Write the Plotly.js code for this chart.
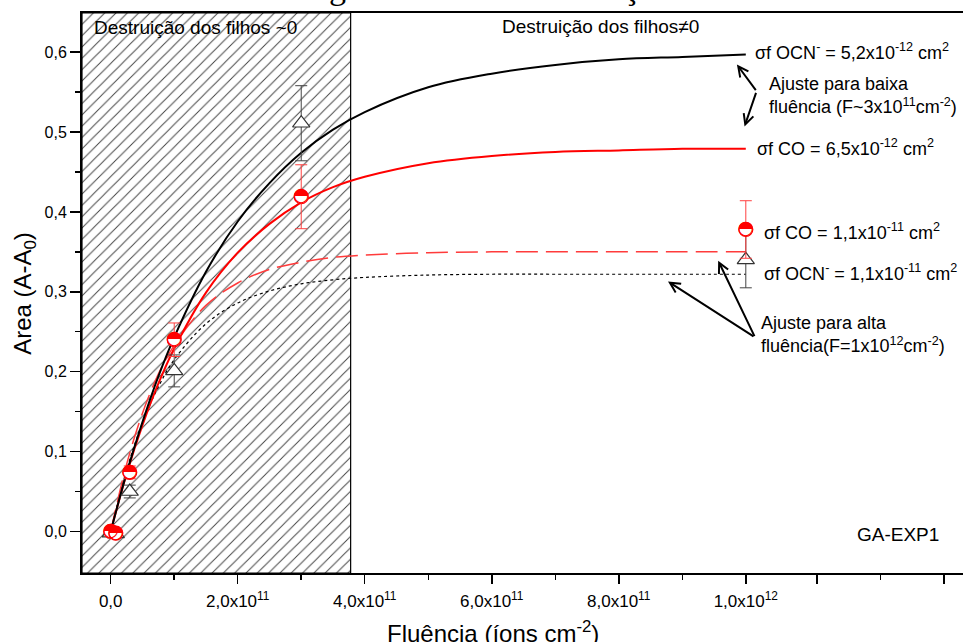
<!DOCTYPE html>
<html><head><meta charset="utf-8">
<script src="https://cdn.plot.ly/plotly-3.0.1.min.js"></script>
<style>html,body{margin:0;padding:0;background:#fff}#chart{width:963px;height:642px}</style>
</head><body><div id="chart"></div>
<script>
// ---- data ----
const coX   = [0, 0.08e11, 0.3e11, 1e11, 3e11, 1e12];
const coY   = [0.0, -0.002, 0.074, 0.24, 0.419, 0.378];
const coErr = [0.004, 0.004, 0.008, 0.021, 0.04, 0.036];

const ocnX   = [0, 0.08e11, 0.3e11, 1e11, 3e11, 1e12];
const ocnY   = [-0.002, -0.003, 0.05, 0.201, 0.511, 0.34];
const ocnErr = [0.004, 0.004, 0.008, 0.02, 0.047, 0.035];

const fitX       = [0, 0.25e11, 0.5e11, 0.75e11, 1e11, 1.5e11, 2e11, 2.5e11, 3e11, 3.5e11, 4e11, 5e11, 6e11, 7e11, 8e11, 9e11, 1e12];
const fitOcnLow  = [0, 0.073, 0.137, 0.194, 0.243, 0.325, 0.388, 0.436, 0.474, 0.503, 0.525, 0.556, 0.573, 0.584, 0.591, 0.594, 0.597];
const fitCoLow   = [0, 0.072, 0.133, 0.185, 0.229, 0.299, 0.349, 0.385, 0.412, 0.431, 0.444, 0.461, 0.470, 0.475, 0.477, 0.479, 0.479];
const fitCoHigh  = [0, 0.084, 0.148, 0.197, 0.233, 0.283, 0.311, 0.328, 0.337, 0.343, 0.346, 0.349, 0.350, 0.350, 0.350, 0.350, 0.350];
const fitOcnHigh = [0, 0.077, 0.136, 0.181, 0.215, 0.260, 0.286, 0.301, 0.310, 0.315, 0.318, 0.321, 0.322, 0.322, 0.322, 0.322, 0.322];

const xRange = [-0.452e11, 13.42e11];
const yRange = [-0.052, 0.649];
const hatchX = [xRange[0], 3.778e11, 3.778e11, xRange[0], xRange[0]];
const hatchY = [yRange[0], yRange[0], yRange[1], yRange[1], yRange[0]];

const xTickVals = [0, 2e11, 4e11, 6e11, 8e11, 1e12, 1.112e12, 1.312e12];
const xTickText = ['0,0', '2,0x10<sup>11</sup>', '4,0x10<sup>11</sup>', '6,0x10<sup>11</sup>', '8,0x10<sup>11</sup>', '1,0x10<sup>12</sup>', '', ''];
const xMinorVals = [1e11, 3e11, 5e11, 7e11, 9e11, 1.212e12];
const yTickVals = [0, 0.1, 0.2, 0.3, 0.4, 0.5, 0.6];
const yTickText = ['0,0', '0,1', '0,2', '0,3', '0,4', '0,5', '0,6'];
const yMinorVals = [0.05, 0.15, 0.25, 0.35, 0.45, 0.55];

const SANS = 'Liberation Sans, Arial, sans-serif';
const NARROW = 'Liberation Sans Narrow, Arial Narrow, Liberation Sans, sans-serif';

const traces = [
  {x: hatchX, y: hatchY, mode: 'lines', fill: 'toself', fillcolor: '#fff',
   fillpattern: {shape: '/', fgcolor: '#444', bgcolor: '#fff', size: 8, solidity: 0.12},
   line: {color: '#000', width: 1.2}, hoverinfo: 'skip', showlegend: false},
  {x: fitX, y: fitOcnHigh, mode: 'lines', line: {color: '#000', width: 1.2, dash: 'dot', shape: 'spline'}},
  {x: fitX, y: fitCoHigh, mode: 'lines', line: {color: '#ff3b3b', width: 1.5, dash: '22px,8px', shape: 'spline'}},
  {x: fitX, y: fitCoLow, mode: 'lines', line: {color: '#ff0000', width: 2, shape: 'spline'}},
  {x: fitX, y: fitOcnLow, mode: 'lines', line: {color: '#000', width: 2, shape: 'spline'}},
  {x: ocnX, y: ocnY, mode: 'markers',
   marker: {symbol: 'triangle-up', size: 15, color: '#fff', line: {color: '#333', width: 1.2}},
   error_y: {type: 'data', array: ocnErr, color: '#444', thickness: 1, width: 6}},
  {x: coX, y: coY, mode: 'markers',
   marker: {symbol: 'circle', size: 14, color: '#fff', line: {color: '#ff0000', width: 1.2}},
   error_y: {type: 'data', array: coErr, color: '#ff4040', thickness: 1, width: 6}},
  {x: coX, y: coY, mode: 'text', text: coX.map(() => '◓'), textposition: 'middle center',
   textfont: {family: 'DejaVu Sans', size: 19, color: '#ff0000'}, hoverinfo: 'skip'}
];

const ann = (text, x, y, size, extra) => Object.assign({text, x, y, xref: 'x', yref: 'y', showarrow: false,
  xanchor: 'left', yanchor: 'middle', align: 'left', font: {family: SANS, size, color: '#000'}}, extra || {});
const arrow = (x, y, ax, ay) => ({x, y, xref: 'x', yref: 'y', ax, ay, axref: 'pixel', ayref: 'pixel', text: '',
  showarrow: true, arrowhead: 5, arrowsize: 1, arrowwidth: 2, arrowcolor: '#000'});

const layout = {
  width: 963, height: 642,
  margin: {l: 82, r: 0, t: 13, b: 69},
  paper_bgcolor: '#fff', plot_bgcolor: '#fff',
  showlegend: false,
  xaxis: {range: xRange, tickvals: xTickVals, ticktext: xTickText, ticks: 'outside', ticklen: 9, tickwidth: 1.5,
    tickcolor: '#000', showline: true, linewidth: 2, linecolor: '#000', mirror: true, showgrid: false, zeroline: false,
    tickfont: {family: NARROW, size: 17, color: '#000'}, ticklabelstandoff: 3,
    minor: {tickvals: xMinorVals, ticks: 'outside', ticklen: 5, tickwidth: 1.5, tickcolor: '#000', showgrid: false}},
  yaxis: {range: yRange, tickvals: yTickVals, ticktext: yTickText, ticks: 'outside', ticklen: 10, tickwidth: 1.5,
    tickcolor: '#000', showline: true, linewidth: 2, linecolor: '#000', mirror: false, showgrid: false, zeroline: false,
    tickfont: {family: SANS, size: 16, color: '#000'},
    minor: {tickvals: yMinorVals, ticks: 'outside', ticklen: 5, tickwidth: 1.5, tickcolor: '#000', showgrid: false}},
  annotations: [
    {text: 'atingirem certa concentração na amostra.', xref: 'paper', yref: 'paper', x: 0.539, y: 1, yshift: 5,
     xanchor: 'center', yanchor: 'bottom', showarrow: false, font: {family: 'Liberation Serif, Times New Roman, serif', size: 34, color: '#000'}},
    {text: 'Area (A-A<sub>0</sub>)', xref: 'paper', yref: 'paper', x: -0.066, y: 0.5, textangle: -90,
     xanchor: 'center', yanchor: 'middle', showarrow: false, font: {family: SANS, size: 24, color: '#000'}},
    {text: 'Fluência (íons cm<sup>-2</sup>)', xref: 'paper', yref: 'paper', x: 0.4665, y: -0.105,
     xanchor: 'center', yanchor: 'middle', showarrow: false, font: {family: NARROW, size: 24, color: '#000'}},
    ann('Destruição dos filhos ~0', -0.30e11, 0.631, 19),
    ann('Destruição dos filhos≠0', 6.13e11, 0.632, 19),
    ann('σf OCN<sup>-</sup> = 5,2x10<sup>-12</sup> cm<sup>2</sup>', 10.11e11, 0.601, 18),
    ann('Ajuste para baixa<br>fluência (F~3x10<sup>11</sup>cm<sup>-2</sup>)', 10.33e11, 0.5457, 18),
    ann('σf CO = 6,5x10<sup>-12</sup> cm<sup>2</sup>', 10.14e11, 0.4806, 18),
    ann('σf CO = 1,1x10<sup>-11</sup> cm<sup>2</sup>', 10.26e11, 0.3755, 18),
    ann('σf OCN<sup>-</sup> = 1,1x10<sup>-11</sup> cm<sup>2</sup>', 10.26e11, 0.324, 18),
    ann('Ajuste para alta<br>fluência(F=1x10<sup>12</sup>cm<sup>-2</sup>)', 10.2e11, 0.2466, 18),
    ann('GA-EXP1', 11.72e11, -0.004, 19),
    arrow(9.86e11, 0.5845, 20, 27),
    arrow(9.98e11, 0.507, 12, -35),
    arrow(8.775e11, 0.313, 87, 56),
    arrow(9.565e11, 0.339, 37, 77)
  ]
};

Plotly.newPlot('chart', traces, layout, {staticPlot: true, displayModeBar: false});
</script>
</body></html>
